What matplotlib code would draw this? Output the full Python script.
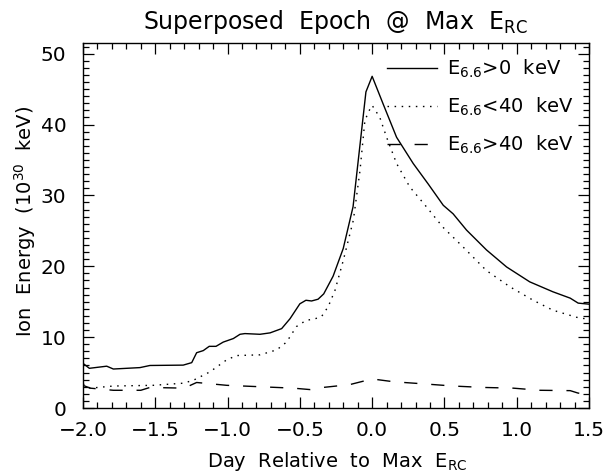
import matplotlib
matplotlib.use("Agg")
import matplotlib.pyplot as plt
from matplotlib.ticker import MultipleLocator, FormatStrFormatter

plt.rcParams['font.family'] = ['DejaVu Sans']
plt.rcParams['mathtext.default'] = 'regular'
plt.rcParams['lines.scale_dashes'] = False

# values
day_all = [-2.0, -1.956, -1.836, -1.79, -1.606, -1.537, -1.307, -1.248, -1.214, -1.168,
           -1.127, -1.08, -1.03, -0.96, -0.914, -0.88, -0.776, -0.706, -0.626, -0.568,
           -0.5, -0.458, -0.419, -0.374, -0.335, -0.27, -0.2, -0.132, -0.043, 0.0,
           0.076, 0.169, 0.284, 0.388, 0.492, 0.56, 0.653, 0.791, 0.93, 1.09,
           1.25, 1.37, 1.425, 1.5]
e_all = [6.3, 5.6, 5.9, 5.5, 5.7, 6.0, 6.05, 6.4, 7.8, 8.1,
         8.7, 8.7, 9.3, 9.8, 10.4, 10.5, 10.4, 10.6, 11.2, 12.6,
         14.7, 15.2, 15.1, 15.35, 16.1, 18.6, 22.5, 28.4, 44.6, 46.8,
         42.9, 38.2, 34.5, 31.6, 28.6, 27.4, 25.1, 22.3, 19.9, 17.8,
         16.4, 15.5, 14.8, 14.65]

day_low = [-2.0, -1.95, -1.79, -1.514, -1.307, -1.238, -1.122, -1.006, -0.937, -0.776,
           -0.66, -0.592, -0.523, -0.454, -0.408, -0.35, -0.304, -0.257, -0.2, -0.13,
           -0.084, -0.05, -0.015, 0.0, 0.053, 0.1, 0.169, 0.26, 0.375, 0.49,
           0.63, 0.79, 0.953, 1.114, 1.25, 1.414, 1.5]
e_low = [3.4, 2.8, 3.1, 3.2, 3.5, 3.9, 5.1, 6.8, 7.4, 7.5,
         8.2, 9.3, 11.5, 12.4, 12.5, 12.9, 14.3, 16.6, 20.8, 26.5,
         33.5, 40.6, 42.2, 42.7, 41.0, 38.2, 34.5, 31.2, 28.4, 25.5,
         22.7, 19.4, 17.1, 15.2, 13.8, 12.8, 12.5]

day_high = [-2.0, -1.95, -1.79, -1.6, -1.537, -1.3, -1.214, -1.006, -0.776, -0.545,
            -0.43, -0.34, -0.155, 0.0, 0.15, 0.36, 0.56, 0.77, 0.976, 1.16,
            1.37, 1.425, 1.5]
e_high = [3.2, 2.8, 2.5, 2.5, 2.9, 2.8, 3.6, 3.2, 3.0, 2.8,
          2.6, 2.9, 3.3, 4.1, 3.7, 3.4, 3.1, 2.9, 2.8, 2.5,
          2.45, 2.1, 2.0]

labels = [r'$E_{6.6}$>0  keV', r'$E_{6.6}$<40  keV', r'$E_{6.6}$>40  keV']

fig = plt.figure(figsize=(6.08, 4.73), dpi=100)
ax = fig.add_axes([83/608, 65/473, 506/608, 365/473])

lw = 1.0
ax.plot(day_all, e_all, color='black', lw=lw, label=labels[0])
ax.plot(day_low, e_low, color='black', lw=lw, dashes=(1.1, 4.0), label=labels[1])
ax.plot(day_high, e_high, color='black', lw=lw, dashes=(9.5, 10.0), label=labels[2])

ax.set_xlim(-2.0, 1.5)
ax.set_ylim(0, 51.5)
ax.xaxis.set_major_locator(MultipleLocator(0.5))
ax.xaxis.set_minor_locator(MultipleLocator(0.1))
ax.xaxis.set_major_formatter(FormatStrFormatter('%.1f'))
ax.yaxis.set_major_locator(MultipleLocator(10))
ax.yaxis.set_minor_locator(MultipleLocator(1))
ax.tick_params(which='both', direction='in', top=True, right=True, width=0.9)
ax.tick_params(which='major', length=8, labelsize=14.5)
ax.tick_params(which='minor', length=4)
ax.tick_params(axis='x', pad=9)
ax.tick_params(axis='y', pad=12)
for s in ax.spines.values():
    s.set_linewidth(1.0)
ax.set_xticklabels([t.replace('-', '\u2212') for t in
                    ['%.1f' % v for v in ax.get_xticks()]])

fig.text(335/608, 1 - 29/473, r'Superposed  Epoch  @  Max  $E_{RC}$',
         ha='center', va='baseline', fontsize=17)
fig.text(337/608, 1 - 467/473, r'Day  Relative  to  Max  $E_{RC}$',
         ha='center', va='baseline', fontsize=14)
fig.text(25/608, 1 - 222/473, r'Ion  Energy  ($10^{30}$  keV)',
         ha='center', va='center', rotation=90, fontsize=14)

leg = ax.legend(loc='upper left', bbox_to_anchor=((387 - 83 - 8) / 506, 1 - (50 - 43) / 365),
                frameon=False, fontsize=14, handlelength=2.6, handletextpad=0.5,
                labelspacing=0.8, borderaxespad=0)

fig.savefig('out.png', dpi=100)
